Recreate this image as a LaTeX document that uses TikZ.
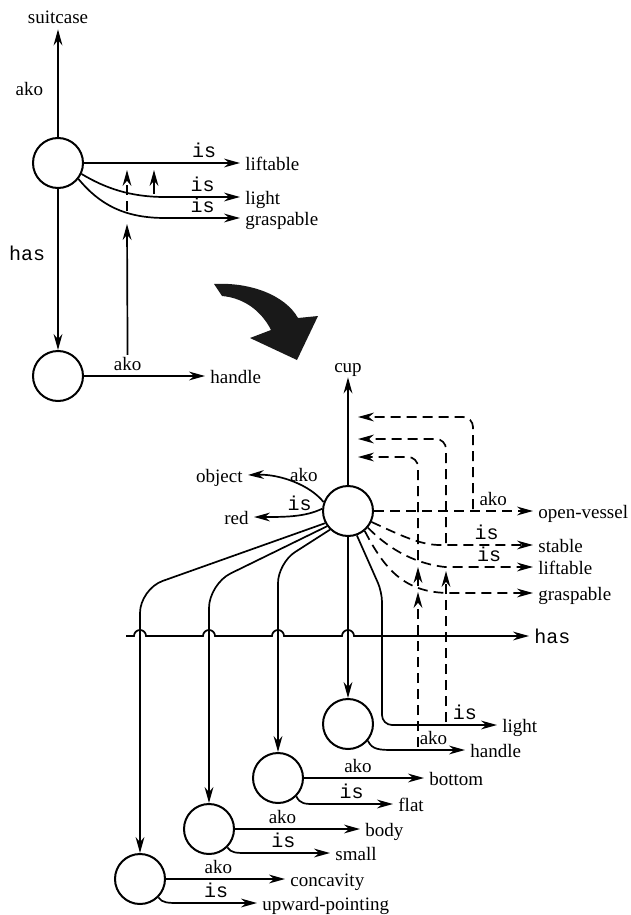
\documentclass[tikz,border=0pt]{standalone}
\usepackage{fontspec}
\setmainfont{Liberation Serif}
\setmonofont{Liberation Mono}
\usetikzlibrary{arrows.meta}

\begin{document}
\begin{tikzpicture}[
    x=0.5pt, y=-0.5pt,
    frame/.style={circle, draw=black, line width=1pt, minimum size=25pt, inner sep=0pt},
    word/.style={font=\fontsize{9.5}{11}\selectfont, inner sep=2.5pt, text height=7pt, text depth=0pt},
    rel/.style={font=\ttfamily\fontsize{10}{11}\selectfont, inner sep=1pt},
    tag/.style={font=\fontsize{9.5}{11}\selectfont, inner sep=1pt},
    link/.style={draw, line width=0.85pt, -{Stealth[length=8pt, width=4.4pt]}},
    dlink/.style={link, dash pattern=on 5pt off 3pt}
]
\useasboundingbox (0,0) rectangle (631,915);

% precedent: suitcase
\node[frame] (s) at (58,163) {};
\node[frame] (sh) at (58,376) {};
\node[word] (suitcase) at (58,17) {suitcase};
\node[word, anchor=west] (lift1) at (240,163) {liftable};
\node[word, anchor=west] (light1) at (240,197) {light};
\node[word, anchor=west] (grasp1) at (240,218) {graspable};
\node[word, anchor=west] (handle1) at (205,376) {handle};

\draw[link] (s.north) -- node[tag, left=6pt, pos=.45] {ako} (suitcase.south);
\draw[link] (s.south) -- node[rel, left=5pt, pos=.4] {has} (sh.north);
\draw[link] (s.east) -- node[rel, above=1pt, pos=.77] {is} (lift1.west);
\draw[link] (s.-25) .. controls (105,188) and (130,197) .. (165,197) -- node[rel, above=1pt] {is} (light1.west);
\draw[link] (s.-38) .. controls (100,205) and (125,218) .. (165,218) -- node[rel, above=1pt] {is} (grasp1.west);
\draw[link] (sh.east) -- node[tag, above=1pt, pos=.36] (ako1) {ako} (handle1.west);

\coordinate (g1) at (127,224);
\coordinate (g1t) at (127,211);
\coordinate (l1b) at (127,170);
\coordinate (t1b) at (154,194);
\coordinate (l1c) at (154,170);
\draw[link] (ako1.north) -- (g1);
\draw[dlink] (g1t) -- (l1b);
\draw[link] (t1b) -- (l1c);

% the big curved arrow
\fill[black!90] (214,284) .. controls (250,282) and (285,295) .. (298,318) -- (318,316) -- (297,360)
    -- (250,338) -- (271,330) .. controls (262,312) and (245,298) .. (222,296) -- cycle;

% learned: cup
\node[frame] (c) at (348,511) {};
\node[frame] (d) at (348,724) {};
\node[frame] (h) at (278,778) {};
\node[frame] (g) at (209,829) {};
\node[frame] (f) at (140,879) {};
\node[word] (cup) at (348,365) {cup};
\node[word, anchor=east] (object) at (248,475) {object};
\node[word, anchor=east] (red) at (254,517) {red};
\node[word, anchor=west] (ov) at (533,511) {open-vessel};
\node[word, anchor=west] (stable) at (533,545) {stable};
\node[word, anchor=west] (lift2) at (533,567) {liftable};
\node[word, anchor=west] (grasp2) at (533,593) {graspable};
\node[rel, anchor=west, inner sep=2.5pt] (has) at (529,636) {has};
\node[word, anchor=west] (light2) at (497,725) {light};
\node[word, anchor=west] (handle2) at (465,750) {handle};
\node[word, anchor=west] (bottom) at (424,778) {bottom};
\node[word, anchor=west] (flat) at (393,804) {flat};
\node[word, anchor=west] (body) at (360,829) {body};
\node[word, anchor=west] (small) at (330,853) {small};
\node[word, anchor=west] (concav) at (285,879) {concavity};
\node[word, anchor=west] (upward) at (257,903) {upward-pointing};

\draw[link] (c.north) -- (cup.south);
\draw[link] (c.160) .. controls (310,485) and (280,474) .. (object.east) node[tag, above=1pt, pos=.35] {ako};
\draw[link] (c.175) .. controls (305,517) and (285,517) .. (red.east) node[rel, above=1pt, pos=.4] {is};
\draw[dlink] (c.east) -- node[tag, above=1pt, pos=.75] {ako} (ov.west);
\draw[dlink] (c.-25) .. controls (400,535) and (420,545) .. (440,545) -- node[rel, above=1pt] {is} (stable.west);
\draw[dlink] (c.-40) .. controls (385,545) and (410,563) .. (445,567) -- node[rel, above=1pt] {is} (lift2.west);
\draw[dlink] (c.-50) .. controls (385,570) and (405,593) .. (450,593) -- (grasp2.west);

\draw[link, rounded corners=12pt] (c.208) -- (140,589) -- (f.north);
\draw[link, rounded corners=12pt] (c.216) -- (209,584) -- (g.north);
\draw[link, rounded corners=10pt] (c.226) -- (278,563) -- (h.north);
\draw[link] (c.south) -- (d.north);
\coordinate (hasS) at (126,636);
\draw[link] (hasS) -- (134,636) arc[start angle=180, end angle=360, radius=6]
    -- (203,636) arc[start angle=180, end angle=360, radius=6]
    -- (272,636) arc[start angle=180, end angle=360, radius=6]
    -- (342,636) arc[start angle=180, end angle=360, radius=6] -- (has.west);

\draw[link, rounded corners=5pt] (c.-70) -- (382,592) -- (382,725) -- node[rel, above=1pt, pos=.72] {is} (light2.west);
\draw[link] (d.-40) .. controls (372,750) and (380,750) .. (395,750) -- node[tag, above=1pt, pos=.55] {ako} (handle2.west);
\draw[link] (h.east) -- node[tag, above=1pt, pos=.45] {ako} (bottom.west);
\draw[link] (h.-45) .. controls (300,804) and (305,804) .. (315,804) -- node[rel, above=1pt, pos=.47] {is} (flat.west);
\draw[link] (g.east) -- node[tag, above=1pt, pos=.38] {ako} (body.west);
\draw[link] (g.-45) .. controls (231,853) and (236,853) .. (248,853) -- node[rel, above=1pt, pos=.43] {is} (small.west);
\draw[link] (f.east) -- node[tag, above=1pt, pos=.44] {ako} (concav.west);
\draw[link] (f.-45) .. controls (162,903) and (168,903) .. (180,903) -- node[rel, above=1pt, pos=.47] {is} (upward.west);

\coordinate (cA) at (358,417);
\coordinate (cB) at (358,439);
\coordinate (cC) at (358,457);
\coordinate (ovA) at (473,509);
\coordinate (stA) at (446,543);
\coordinate (lfA) at (418,560);
\draw[dlink, rounded corners=5pt] (ovA) -- (473,417) -- (cA);
\draw[dlink, rounded corners=5pt] (stA) -- (446,439) -- (cB);
\draw[dlink, rounded corners=5pt] (lfA) -- (418,457) -- (cC);
\coordinate (ltB) at (446,722);
\coordinate (lfB) at (446,571);
\draw[dlink] (ltB) -- (lfB);
\coordinate (hdB) at (418,747);
\coordinate (grB) at (418,592);
\draw[dlink] (hdB) -- (grB);
\coordinate (grC) at (418,586);
\coordinate (lfC) at (418,567);
\draw[dlink] (grC) -- (lfC);

\end{tikzpicture}
\end{document}
